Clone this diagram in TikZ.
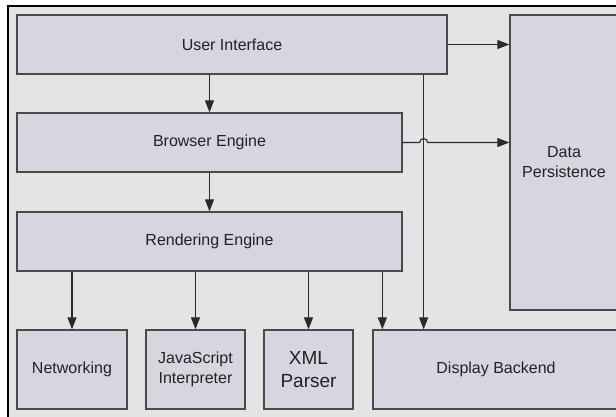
\documentclass[tikz,border=0pt]{standalone}
\usepackage{fontspec}
\setmainfont{Liberation Sans}
\usetikzlibrary{arrows.meta,calc}

\definecolor{panelgrey}{HTML}{E4E4E4}
\definecolor{boxfill}{HTML}{D5D6DF}
\definecolor{boxline}{HTML}{4A4A4A}
\definecolor{textdark}{HTML}{222222}
\definecolor{wire}{HTML}{2A2A2A}

\tikzset{
  block/.style={draw=boxline, fill=boxfill, line width=1.3pt, inner sep=0pt,
    align=center, text=textdark, font=\fontsize{16}{20}\selectfont},
  arr/.style={draw=wire, line width=1.1pt,
    -{Triangle[length=12pt,width=9pt]}},
}

\begin{document}
\begin{tikzpicture}[x=1pt, y=-1pt]
  \useasboundingbox (0,0) rectangle (616,417);
  \clip (0,0) rectangle (616,417);

  % panel with its black edge on the top and left
  \fill[panelgrey] (8,6) rectangle (660,460);
  \draw[black, line width=2.2pt] (660,6) -- (8,6) -- (8,460);

  % component blocks
  \node[block, minimum width=430pt, minimum height=59pt] (ui) at (232,44.5) {User Interface};
  \node[block, minimum width=385pt, minimum height=59pt] (be) at (209.5,142.5) {Browser Engine};
  \node[block, minimum width=385pt, minimum height=59pt] (re) at (209.5,241.5) {Rendering Engine};
  \node[block, minimum width=108pt, minimum height=295pt] (dp) at (564,162.5) {Data\\Persistence};
  \node[block, minimum width=110pt, minimum height=79pt] (net) at (72,369.5) {Networking};
  \node[block, minimum width=99pt, minimum height=79pt] (js) at (195.5,369.5) {JavaScript\\Interpreter};
  \node[block, minimum width=89pt, minimum height=79pt,
        font=\fontsize{19}{23}\selectfont] (xml) at (308.5,369.5) {XML\\Parser};
  \node[block, minimum width=246pt, minimum height=79pt] (db) at (496,369.5) {Display Backend};

  % vertical flow through the engines
  \draw[arr] (be.north |- ui.south) -- (be.north);
  \draw[arr] (be.south) -- (re.north);

  % user interface straight down to the display backend
  \path (ui.south east) ++(-24,0) coordinate (drop);
  \draw[arr] (drop) -- (drop |- db.north);

  % links to data persistence (the lower one hops over the drop line)
  \draw[arr] (ui.east) -- (ui.east -| dp.west);
  \draw[arr] (be.east) -- ($(drop |- be.east)+(-4,0)$)
    arc[start angle=180, end angle=0, radius=4pt] -- (be.east -| dp.west);

  % rendering engine to its helpers
  \draw[arr] (net.north |- re.south) -- (net.north);
  \draw[arr] (js.north |- re.south) -- (js.north);
  \draw[arr] (xml.north |- re.south) -- (xml.north);
  \path ([xshift=10pt]db.north west) coordinate (dbin);
  \draw[arr] (dbin |- re.south) -- (dbin);
\end{tikzpicture}
\end{document}
